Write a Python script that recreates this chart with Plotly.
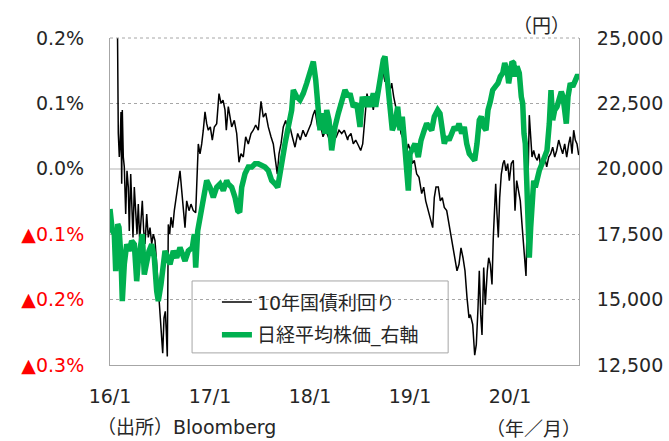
import plotly.graph_objects as go

# ---- data (x in decimal years) ----
yield_x = [2016.000, 2016.030, 2016.060, 2016.075, 2016.083, 2016.093, 2016.100, 2016.110, 2016.117, 2016.123,
           2016.133, 2016.143, 2016.157, 2016.170, 2016.183, 2016.193, 2016.207, 2016.217, 2016.230, 2016.243,
           2016.257, 2016.270, 2016.283, 2016.297, 2016.310, 2016.323, 2016.337, 2016.350, 2016.367, 2016.383,
           2016.400, 2016.417, 2016.433, 2016.450, 2016.467, 2016.483, 2016.500, 2016.517, 2016.527, 2016.540,
           2016.553, 2016.563, 2016.573, 2016.583, 2016.597, 2016.610, 2016.627, 2016.643, 2016.663, 2016.683,
           2016.700, 2016.717, 2016.737, 2016.750, 2016.767, 2016.790, 2016.810, 2016.833, 2016.857, 2016.870,
           2016.883, 2016.900, 2016.917, 2016.933, 2016.950, 2016.967, 2016.983, 2017.003, 2017.023, 2017.043,
           2017.067, 2017.090, 2017.110, 2017.130, 2017.150, 2017.163, 2017.183, 2017.217, 2017.243, 2017.267,
           2017.290, 2017.310, 2017.333, 2017.357, 2017.383, 2017.410, 2017.433, 2017.457, 2017.483, 2017.510,
           2017.533, 2017.557, 2017.583, 2017.610, 2017.633, 2017.650, 2017.673, 2017.690, 2017.710, 2017.733,
           2017.757, 2017.777, 2017.800, 2017.823, 2017.850, 2017.877, 2017.903, 2017.930, 2017.957, 2017.983,
           2018.010, 2018.030, 2018.050, 2018.077, 2018.103, 2018.130, 2018.157, 2018.183, 2018.210, 2018.237,
           2018.263, 2018.290, 2018.317, 2018.343, 2018.377, 2018.383, 2018.410, 2018.433, 2018.457, 2018.483,
           2018.507, 2018.527, 2018.543, 2018.557, 2018.570, 2018.590, 2018.610, 2018.633, 2018.657, 2018.683,
           2018.710, 2018.733, 2018.750, 2018.773, 2018.793, 2018.817, 2018.837, 2018.857, 2018.883, 2018.910,
           2018.937, 2018.963, 2018.983, 2019.003, 2019.023, 2019.043, 2019.067, 2019.090, 2019.117, 2019.137,
           2019.157, 2019.183, 2019.207, 2019.227, 2019.243, 2019.260, 2019.283, 2019.303, 2019.323, 2019.343,
           2019.367, 2019.390, 2019.410, 2019.430, 2019.450, 2019.470, 2019.490, 2019.510, 2019.530, 2019.550,
           2019.570, 2019.590, 2019.603, 2019.627, 2019.647, 2019.663, 2019.680, 2019.693, 2019.707, 2019.720,
           2019.737, 2019.753, 2019.773, 2019.787, 2019.803, 2019.820, 2019.833, 2019.847, 2019.857, 2019.870,
           2019.883, 2019.897, 2019.913, 2019.930, 2019.943, 2019.960, 2019.977, 2019.993, 2020.013, 2020.033,
           2020.050, 2020.067, 2020.087, 2020.103, 2020.120, 2020.133, 2020.147, 2020.160, 2020.170, 2020.180,
           2020.193, 2020.207, 2020.220, 2020.237, 2020.253, 2020.273, 2020.290, 2020.307, 2020.327, 2020.347,
           2020.367, 2020.387, 2020.407, 2020.427, 2020.447, 2020.467, 2020.487, 2020.507, 2020.527, 2020.547,
           2020.567, 2020.587, 2020.603, 2020.620, 2020.637, 2020.653, 2020.670, 2020.687]
yield_pct = [0.260, 0.230, 0.220, 0.210, 0.054, 0.018, 0.033, 0.087, -0.023, 0.090,
             0.018, 0.003, -0.069, -0.003, -0.028, -0.095, -0.008, -0.059, -0.105, -0.028,
             -0.074, -0.100, -0.054, -0.110, -0.079, -0.049, -0.095, -0.115, -0.069, -0.105,
             -0.090, -0.115, -0.100, -0.110, -0.146, -0.187, -0.228, -0.269, -0.282, -0.228,
             -0.218, -0.249, -0.287, -0.085, -0.100, -0.074, -0.090, -0.064, -0.044, -0.023,
             -0.003, -0.033, -0.064, -0.090, -0.049, -0.064, -0.054, -0.064, -0.067, -0.003,
             0.038, 0.023, 0.038, 0.059, 0.087, 0.069, 0.059, 0.064, 0.044, 0.064,
             0.069, 0.115, 0.100, 0.105, 0.090, 0.059, 0.095, 0.064, 0.074, 0.054,
             0.010, 0.023, 0.018, 0.049, 0.038, 0.054, 0.059, 0.067, 0.059, 0.103,
             0.079, 0.085, 0.064, 0.049, 0.038, 0.018, -0.008, 0.023, 0.038, 0.064,
             0.074, 0.059, 0.064, 0.049, 0.033, 0.054, 0.044, 0.059, 0.049, 0.059,
             0.069, 0.082, 0.090, 0.064, 0.069, 0.049, 0.059, 0.049, 0.038, 0.044,
             0.049, 0.059, 0.054, 0.059, 0.044, 0.049, 0.054, 0.038, 0.044, 0.036,
             0.028, 0.038, 0.064, 0.095, 0.115, 0.100, 0.110, 0.090, 0.115, 0.126,
             0.136, 0.146, 0.133, 0.149, 0.115, 0.131, 0.110, 0.095, 0.085, 0.054,
             0.044, 0.023, 0.038, 0.028, 0.008, 0.013, -0.008, -0.013, -0.038, -0.028,
             -0.049, -0.064, -0.074, -0.090, -0.044, -0.028, -0.028, -0.049, -0.044, -0.059,
             -0.064, -0.085, -0.100, -0.121, -0.136, -0.156, -0.146, -0.121, -0.136, -0.156,
             -0.197, -0.228, -0.223, -0.238, -0.285, -0.269, -0.213, -0.156, -0.223, -0.254,
             -0.151, -0.208, -0.156, -0.136, -0.146, -0.177, -0.105, -0.054, -0.023, -0.069,
             -0.105, -0.044, -0.008, 0.008, 0.013, -0.003, 0.008, -0.018, 0.008, 0.013,
             -0.064, -0.018, -0.033, -0.049, -0.085, -0.110, -0.151, -0.164, -0.095, -0.018,
             0.082, 0.049, 0.018, 0.028, 0.018, 0.013, 0.023, 0.003, 0.008, 0.018,
             0.003, 0.018, 0.023, 0.033, 0.018, 0.028, 0.044, 0.033, 0.023, 0.038,
             0.018, 0.038, 0.049, 0.023, 0.059, 0.044, 0.038, 0.021]

nikkei_x = [2016.000, 2016.023, 2016.043, 2016.057, 2016.077, 2016.090, 2016.110, 2016.123, 2016.143, 2016.167,
            2016.190, 2016.217, 2016.243, 2016.267, 2016.283, 2016.310, 2016.323, 2016.343, 2016.367, 2016.390,
            2016.417, 2016.443, 2016.467, 2016.483, 2016.510, 2016.533, 2016.550, 2016.577, 2016.600, 2016.633,
            2016.667, 2016.700, 2016.723, 2016.750, 2016.783, 2016.823, 2016.843, 2016.857, 2016.877, 2016.900,
            2016.917, 2016.943, 2016.967, 2017.000, 2017.033, 2017.067, 2017.100, 2017.133, 2017.167, 2017.183,
            2017.217, 2017.250, 2017.277, 2017.297, 2017.317, 2017.350, 2017.383, 2017.417, 2017.450, 2017.483,
            2017.517, 2017.550, 2017.583, 2017.617, 2017.650, 2017.677, 2017.700, 2017.723, 2017.750, 2017.783,
            2017.817, 2017.833, 2017.867, 2017.900, 2017.933, 2017.967, 2018.000, 2018.033, 2018.057, 2018.077,
            2018.100, 2018.123, 2018.150, 2018.167, 2018.190, 2018.217, 2018.250, 2018.283, 2018.317, 2018.350,
            2018.383, 2018.400, 2018.433, 2018.467, 2018.500, 2018.523, 2018.550, 2018.577, 2018.600, 2018.633,
            2018.657, 2018.683, 2018.710, 2018.733, 2018.750, 2018.777, 2018.800, 2018.823, 2018.850, 2018.877,
            2018.900, 2018.923, 2018.943, 2018.967, 2018.983, 2019.000, 2019.017, 2019.050, 2019.083, 2019.110,
            2019.143, 2019.167, 2019.190, 2019.217, 2019.243, 2019.277, 2019.300, 2019.317, 2019.343, 2019.367,
            2019.390, 2019.417, 2019.443, 2019.467, 2019.490, 2019.517, 2019.543, 2019.567, 2019.593, 2019.620,
            2019.647, 2019.670, 2019.693, 2019.713, 2019.737, 2019.760, 2019.780, 2019.803, 2019.827, 2019.853,
            2019.880, 2019.903, 2019.927, 2019.947, 2019.970, 2019.987, 2020.003, 2020.020, 2020.037, 2020.053,
            2020.070, 2020.093, 2020.113, 2020.127, 2020.140, 2020.153, 2020.167, 2020.180, 2020.193, 2020.207,
            2020.220, 2020.237, 2020.253, 2020.270, 2020.293, 2020.320, 2020.347, 2020.370, 2020.393, 2020.410,
            2020.427, 2020.447, 2020.470, 2020.493, 2020.513, 2020.530, 2020.547, 2020.563, 2020.580, 2020.603,
            2020.627, 2020.653, 2020.670, 2020.690]
nikkei = [18460, 17630, 17500, 16090, 17885, 17760, 16600, 14940, 16350, 17115,
          16860, 17245, 17115, 15705, 16475, 16990, 17500, 15960, 16600, 16860,
          17115, 16600, 15320, 14940, 15580, 16350, 16860, 16600, 16350, 16860,
          16600, 16990, 16730, 16475, 16860, 16990, 17500, 16220, 17630, 18140,
          18400, 19170, 19550, 19295, 18910, 19295, 19425, 19170, 19550, 19425,
          19295, 18910, 18400, 18335, 19295, 19810, 20065, 20065, 20190, 20190,
          20130, 20065, 19935, 19550, 19425, 19295, 19810, 20450, 20960, 21600,
          22245, 23010, 22755, 22630, 22885, 23270, 23780, 24100, 23400, 22630,
          21475, 22115, 21345, 22245, 21860, 20705, 21600, 22115, 22500, 23010,
          22755, 22885, 22370, 22500, 21600, 22755, 22370, 22755, 22370, 22885,
          22370, 23010, 23655, 24165, 24295, 23400, 22370, 21475, 21730, 22370,
          21475, 21990, 21090, 20190, 19165, 20575, 20705, 20960, 20450, 21090,
          21475, 21730, 21600, 21475, 21990, 22245, 22115, 21475, 20960, 21220,
          21090, 21345, 21600, 21475, 21730, 21345, 21600, 20960, 20575, 20450,
          20320, 20960, 21860, 21990, 21600, 21475, 22245, 22565, 23010, 23140,
          23270, 23525, 23655, 24040, 23780, 23270, 23910, 24100, 24040, 23525,
          23910, 23655, 22755, 22500, 21345, 20960, 19550, 17885, 16600, 17760,
          18910, 19550, 19295, 19680, 19935, 20190, 20450, 20705, 21730, 23010,
          21860, 22245, 22370, 22630, 22950, 22755, 22115, 21730, 22755, 23270,
          23140, 23335, 23525, 23525]

year_ticks = [2016, 2017, 2018, 2019, 2020]
year_labels = ["16/1", "17/1", "18/1", "19/1", "20/1"]
left_ticks = [0.2, 0.1, 0.0, -0.1, -0.2, -0.3]
left_labels = ["0.2%", "0.1%", "0.0%", "▲0.1%", "▲0.2%", "▲0.3%"]
right_ticks = [25000, 22500, 20000, 17500, 15000, 12500]

series_names = ["10年国債利回り", "日経平均株価_右軸"]

FONT = "DejaVu Sans, Noto Sans CJK JP"
CJK = "Noto Sans CJK JP"
TXT = "#262626"
RED = "#ff0000"

left_text = [(f'<span style="color:{RED}">{t}</span>' if t.startswith("▲") else t) for t in left_labels]

fig = go.Figure()
fig.add_trace(go.Scatter(x=nikkei_x, y=nikkei, name=series_names[1], yaxis="y2",
                         mode="lines", line=dict(color="#00b050", width=5.5),
                         legendrank=2, legendgroup="b"))
fig.add_trace(go.Scatter(x=yield_x, y=yield_pct, name=series_names[0], yaxis="y",
                         mode="lines", line=dict(color="#000000", width=1.5),
                         legendrank=1, legendgroup="a"))

fig.update_layout(
    width=669, height=441, autosize=False,
    margin=dict(l=110, r=90, t=38, b=76, autoexpand=False),
    paper_bgcolor="white", plot_bgcolor="white",
    font=dict(family=FONT, size=19, color=TXT),
    showlegend=True,
    legend=dict(x=0.228, y=0.25, xanchor="left", yanchor="top",
                bgcolor="rgba(0,0,0,0)", borderwidth=0,
                font=dict(family=FONT, size=19, color=TXT),
                tracegroupgap=5, itemwidth=30),
    xaxis=dict(range=[2016, 2020.69], tickmode="array", tickvals=year_ticks, ticktext=year_labels,
               showgrid=False, zeroline=False, showline=True, linecolor="#a6a6a6", linewidth=1,
               automargin=False,
               ticks="", ticklabelstandoff=14, tickfont=dict(family=FONT, size=19, color=TXT)),
    yaxis=dict(range=[-0.3, 0.2], tickmode="array", tickvals=left_ticks, ticktext=left_text,
               showgrid=True, gridcolor="#a6a6a6", griddash="dot", gridwidth=1,
               zeroline=True, zerolinecolor="#d9d9d9", zerolinewidth=1.5,
               showline=True, linecolor="#a6a6a6", linewidth=1, ticks="", automargin=False,
               ticklabelstandoff=21, tickfont=dict(family=FONT, size=19, color=TXT)),
    yaxis2=dict(range=[12500, 25000], overlaying="y", side="right", tickmode="array",
                tickvals=right_ticks, tickformat=",", showgrid=False, zeroline=False,
                showline=True, linecolor="#a6a6a6", linewidth=1, ticks="", automargin=False,
                ticklabelstandoff=13, tickfont=dict(family=FONT, size=19, color=TXT)),
    shapes=[
        dict(type="line", xref="paper", yref="paper", x0=0, x1=1, y0=1, y1=1,
             line=dict(color="#a6a6a6", width=1, dash="dot")),
        dict(type="rect", xref="paper", yref="paper", x0=0.175, x1=0.721, y0=0.037, y1=0.257,
             line=dict(color="#a6a6a6", width=1), fillcolor="rgba(0,0,0,0)"),
    ],
    annotations=[
        dict(text="（円）", xref="paper", yref="paper", x=0.919, y=1.04, showarrow=False,
             xanchor="center", yanchor="middle", font=dict(family=CJK, size=19, color=TXT)),
        dict(text="（出所）Bloomberg", xref="paper", yref="paper", x=-0.032, y=-0.19, showarrow=False,
             xanchor="left", yanchor="middle", font=dict(family=FONT, size=19, color=TXT)),
        dict(text="（年／月）", xref="paper", yref="paper", x=0.797, y=-0.19, showarrow=False,
             xanchor="left", yanchor="middle", font=dict(family=CJK, size=19, color=TXT)),
    ],
)

fig.write_html("out.html", config={"responsive": False, "displayModeBar": False},
               post_script="document.body.style.margin='0';document.body.style.overflow='hidden';")
